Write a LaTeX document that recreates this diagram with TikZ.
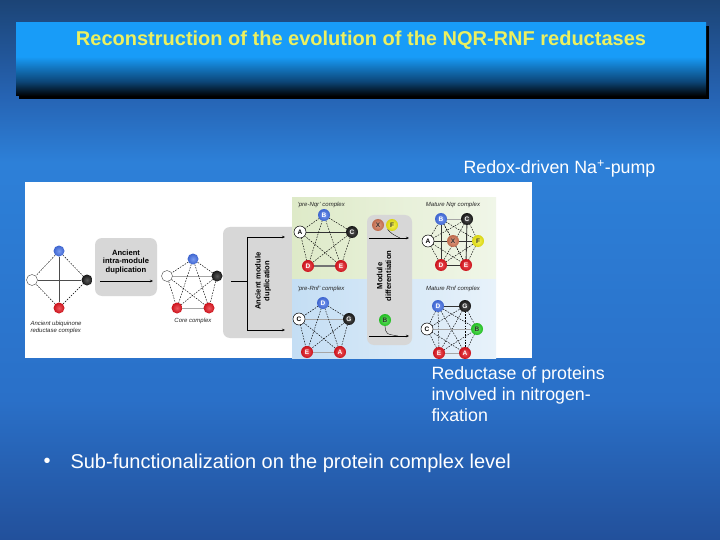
\documentclass[tikz,border=0pt]{standalone}
\usepackage{fontspec}
\setmainfont{Liberation Sans}
\usetikzlibrary{arrows.meta}
\definecolor{bgtop}{RGB}{28,68,118}
\definecolor{bgup}{RGB}{38,100,180}
\definecolor{bgmid}{RGB}{45,128,216}
\definecolor{bglow}{RGB}{42,112,200}
\definecolor{bgbot}{RGB}{34,80,155}
\definecolor{tb}{RGB}{24,156,248}
\definecolor{tbd}{RGB}{12,70,120}
\definecolor{ttext}{RGB}{236,240,96}
\definecolor{gbox}{RGB}{215,215,215}
\definecolor{gpan}{RGB}{222,234,200}
\definecolor{gpanl}{RGB}{240,246,232}
\definecolor{bpan}{RGB}{196,222,244}
\definecolor{bpanl}{RGB}{232,242,250}
\definecolor{sblue}{RGB}{70,115,235}
\definecolor{sred}{RGB}{230,20,30}
\definecolor{sorange}{RGB}{215,120,85}
\definecolor{syellow}{RGB}{245,240,20}
\definecolor{sgreen}{RGB}{40,215,40}
\definecolor{sblack}{RGB}{25,25,25}
\pgfdeclareverticalshading{slidebg}{100bp}{color(0bp)=(bgbot); color(25bp)=(bgbot); color(38bp)=(bglow); color(60bp)=(bgmid); color(66bp)=(bgup); color(75bp)=(bgtop); color(100bp)=(bgtop)}
\pgfdeclareverticalshading{titlebg}{100bp}{color(0bp)=(black); color(25bp)=(black); color(35bp)=(tbd); color(52bp)=(tb); color(75bp)=(tb); color(100bp)=(tb)}
\tikzset{
  ball/.style={circle, inner sep=0pt, minimum size=12pt, inner color=#1!72!white, outer color=#1!88!black, font=\fontsize{6.5}{7}\selectfont\bfseries},
  sball/.style={circle, inner sep=0pt, minimum size=11pt, inner color=#1!72!white, outer color=#1!88!black},
  wball/.style={circle, inner sep=0pt, minimum size=12pt, draw=black, line width=0.5pt, fill=white, font=\fontsize{6.5}{7}\selectfont\bfseries},
  dl/.style={draw=black, line width=0.45pt, dash pattern=on 1.6pt off 1.2pt},
  sl/.style={draw=black!80, line width=0.9pt},
  gl/.style={draw=black!35, line width=0.6pt},
  ggl/.style={draw=black!55, line width=1.3pt},
  graybox/.style={fill=gbox, rounded corners=7pt},
  arr/.style={-{Stealth[length=3pt,width=2.5pt]}, line width=0.7pt},
  capt/.style={font=\fontsize{6}{6.5}\selectfont\itshape, text=black!85},
  btxt/.style={font=\fontsize{7.6}{8.8}\selectfont\bfseries, align=center},
  wtxt/.style={text=white, font=\fontsize{17.8}{21}\selectfont}
}
\begin{document}
\begin{tikzpicture}[x=1pt,y=-1pt]
\useasboundingbox (0,0) rectangle (720,540);
\fill[shading=slidebg] (0,0) rectangle (720,540);
% title
\fill[black] (19,26) rectangle (709,99);
\fill[shading=titlebg] (16,23) rectangle (706,96);
\node[text=ttext, font=\fontsize{20}{22}\selectfont\bfseries] (title) at (361,40) {Reconstruction of the evolution of the NQR-RNF reductases};
% side texts
\node[wtxt, anchor=west] (redox) at (460,169) {Redox-driven Na\textsuperscript{+}-pump};
\node[wtxt, anchor=north west, align=left] (reduct) at (428,363) {Reductase of proteins\\involved in nitrogen-\\fixation};
\node[wtxt, anchor=west, font=\fontsize{20}{22}\selectfont] (bullet) at (40,463) {\textbullet};
\node[wtxt, anchor=west, font=\fontsize{20}{22}\selectfont] (sub) at (67,463) {Sub-functionalization on the protein complex level};
% figure background
\fill[white] (25,182) rectangle (532,358);
% gray boxes
\fill[graybox] (95,238) rectangle (157,296);
\fill[graybox] (223,227) rectangle (310,338);
% panels
\shade[left color=gpan, right color=gpanl] (292,198) rectangle (496,278);
\shade[left color=bpan, right color=bpanl] (292,279) rectangle (496,358);
\fill[graybox] (367,215) rectangle (412,345);
% ancient ubiquinone complex
\node[sball=sblue] (ub) at (59,251) {};
\node[circle, inner sep=0pt, minimum size=11pt, draw=black!70, line width=0.4pt, fill=white] (uw) at (32,280) {};
\node[sball=sblack] (uk) at (87,280) {};
\node[sball=sred] (ur) at (59,308) {};
\draw[draw=black!70, line width=0.5pt] (ub) -- (ur);
\draw[draw=black!70, line width=0.5pt] (uw) -- (uk);
\draw[dl] (ub) -- (uw); \draw[dl] (ub) -- (uk); \draw[dl] (ur) -- (uw); \draw[dl] (ur) -- (uk);
\node[capt, anchor=north west, align=left] (ucap) at (27,318) {Ancient ubiquinone\\reductase complex};
% intra-module duplication
\node[btxt] (t1) at (126,262) {Ancient\\intra-module\\duplication};
\coordinate (a1s) at (100,281); \coordinate (a1e) at (153,281);
\draw[arr] (a1s) -- (a1e);
% core complex
\coordinate (cb0) at (193,259); \coordinate (cw0) at (167,276); \coordinate (ck0) at (217,276);
\coordinate (cr10) at (177,308); \coordinate (cr20) at (209,308);
\draw[gl] (cw0) -- (ck0); \draw[gl] (cr10) -- (cr20);
\draw[dl] (cb0) -- (cw0); \draw[dl] (cb0) -- (ck0); \draw[dl] (cb0) -- (cr10); \draw[dl] (cb0) -- (cr20);
\draw[dl] (cw0) -- (cr20); \draw[dl] (ck0) -- (cr10); \draw[dl] (ck0) -- (cr20);
\node[sball=sblue] (cb) at (cb0) {};
\node[circle, inner sep=0pt, minimum size=11pt, draw=black!70, line width=0.4pt, fill=white] (cw) at (cw0) {};
\draw[dl] (cw) -- (cr10);
\node[sball=sblack] (ck) at (ck0) {};
\node[sball=sred] (cr1) at (cr10) {};
\node[sball=sred] (cr2) at (cr20) {};
\node[capt] (ccap) at (193,321) {Core complex};
% ancient module duplication
\coordinate (m0) at (231,281); \coordinate (m1) at (247,281);
\coordinate (mt) at (247,237); \coordinate (mb) at (247,330);
\coordinate (mte) at (285,237); \coordinate (mbe) at (285,330);
\draw[line width=0.8pt] (m0) -- (m1);
\draw[line width=0.8pt] (mt) -- (mb);
\draw[arr] (mt) -- (mte);
\draw[arr] (mb) -- (mbe);
\node[btxt, rotate=90] (t2) at (263,281) {Ancient module\\duplication};
% pre-Nqr complex
\node[capt, anchor=west] (pncap) at (294,205) {`pre-Nqr' complex};
\coordinate (pB) at (324,215); \coordinate (pA) at (300,232); \coordinate (pC) at (352,232);
\coordinate (pD) at (308,266); \coordinate (pE) at (341,266);
\draw[sl] (pA) -- (pC); \draw[ggl] (pD) -- (pE);
\foreach \u/\v in {pB/pA,pB/pC,pB/pD,pB/pE,pA/pD,pA/pE,pC/pD,pC/pE} \draw[dl] (\u) -- (\v);
\node[ball=sblue, text=white] (pnB) at (pB) {B};
\node[wball] (pnA) at (pA) {A};
\node[ball=sblack, text=white] (pnC) at (pC) {C};
\node[ball=sred, text=white] (pnD) at (pD) {D};
\node[ball=sred, text=white] (pnE) at (pE) {E};
% mature Nqr complex
\node[capt, anchor=center] (mncap) at (453,205) {Mature Nqr complex};
\coordinate (qB) at (441,219); \coordinate (qC) at (467,219); \coordinate (qA) at (428,241);
\coordinate (qX) at (453,241); \coordinate (qF) at (478,241); \coordinate (qD) at (441,265); \coordinate (qE) at (466,265);
\foreach \u/\v in {qA/qB,qA/qD,qC/qF,qF/qE,qB/qE,qC/qD,qA/qC,qA/qE,qB/qF,qD/qF,qB/qX,qX/qE} \draw[dl] (\u) -- (\v);
\draw[gl] (qB) -- (qC);
\draw[sl] (qA) -- (qF); \draw[sl] (qB) -- (qD); \draw[sl] (qC) -- (qE); \draw[sl] (qD) -- (qE);
\node[ball=sblue, text=white] (mnB) at (qB) {B};
\node[ball=sblack, text=white] (mnC) at (qC) {C};
\node[wball] (mnA) at (qA) {A};
\node[ball=sorange, text=black!80] (mnX) at (qX) {X};
\node[ball=syellow, text=black!80] (mnF) at (qF) {F};
\node[ball=sred, text=white] (mnD) at (qD) {D};
\node[ball=sred, text=white] (mnE) at (qE) {E};
% module differentiation
\node[ball=sorange, text=black!80] (dX) at (378,225) {X};
\node[ball=syellow, text=black!80] (dF) at (392,225) {F};
\coordinate (d1s) at (369,238); \coordinate (d1e) at (409,238); \coordinate (d1m) at (400,238);
\draw[arr] (d1s) -- (d1e);
\draw[line width=0.35pt] (dF.south west) .. controls (392,234) .. (d1m);
\node[btxt, rotate=90] (t3) at (384,276) {Module\\differentiation};
\node[ball=sgreen, text=black!80] (dB) at (385,320) {B};
\coordinate (d2s) at (369,336); \coordinate (d2e) at (409,336); \coordinate (d2m) at (398,336);
\draw[arr] (d2s) -- (d2e);
\draw[line width=0.35pt] (dB.south) .. controls (386,334) .. (d2m);
% pre-Rnf complex
\node[capt, anchor=west] (prcap) at (294,289) {`pre-Rnf' complex};
\coordinate (rD) at (323,303); \coordinate (rC) at (299,319); \coordinate (rG) at (349,319);
\coordinate (rE) at (307,352); \coordinate (rA) at (340,352);
\draw[gl] (rC) -- (rG); \draw[gl] (rE) -- (rA);
\foreach \u/\v in {rD/rC,rD/rG,rD/rE,rD/rA,rC/rE,rG/rA,rC/rA,rG/rE} \draw[dl] (\u) -- (\v);
\node[ball=sblue, text=white] (prD) at (rD) {D};
\node[wball] (prC) at (rC) {C};
\node[ball=sblack, text=white] (prG) at (rG) {G};
\node[ball=sred, text=white] (prE) at (rE) {E};
\node[ball=sred, text=white] (prA) at (rA) {A};
% mature Rnf complex
\node[capt, anchor=center] (mrcap) at (453,289) {Mature Rnf complex};
\coordinate (sD) at (438,306); \coordinate (sG) at (465,306); \coordinate (sC) at (427,329);
\coordinate (sB) at (477,329); \coordinate (sE) at (439,353); \coordinate (sA) at (465,353);
\foreach \u/\v in {sD/sC,sG/sB,sC/sE,sB/sA,sD/sE,sD/sA,sG/sE,sG/sA,sC/sG,sD/sB,sC/sA,sE/sB} \draw[dl] (\u) -- (\v);
\draw[sl] (sD) -- (sG); \draw[gl] (sC) -- (sB); \draw[gl] (sE) -- (sA);
\node[ball=sblue, text=white] (mrD) at (sD) {D};
\node[ball=sblack, text=white] (mrG) at (sG) {G};
\node[wball] (mrC) at (sC) {C};
\node[ball=sgreen, text=black!80] (mrB) at (sB) {B};
\node[ball=sred, text=white] (mrE) at (sE) {E};
\node[ball=sred, text=white] (mrA) at (sA) {A};
\end{tikzpicture}
\end{document}
